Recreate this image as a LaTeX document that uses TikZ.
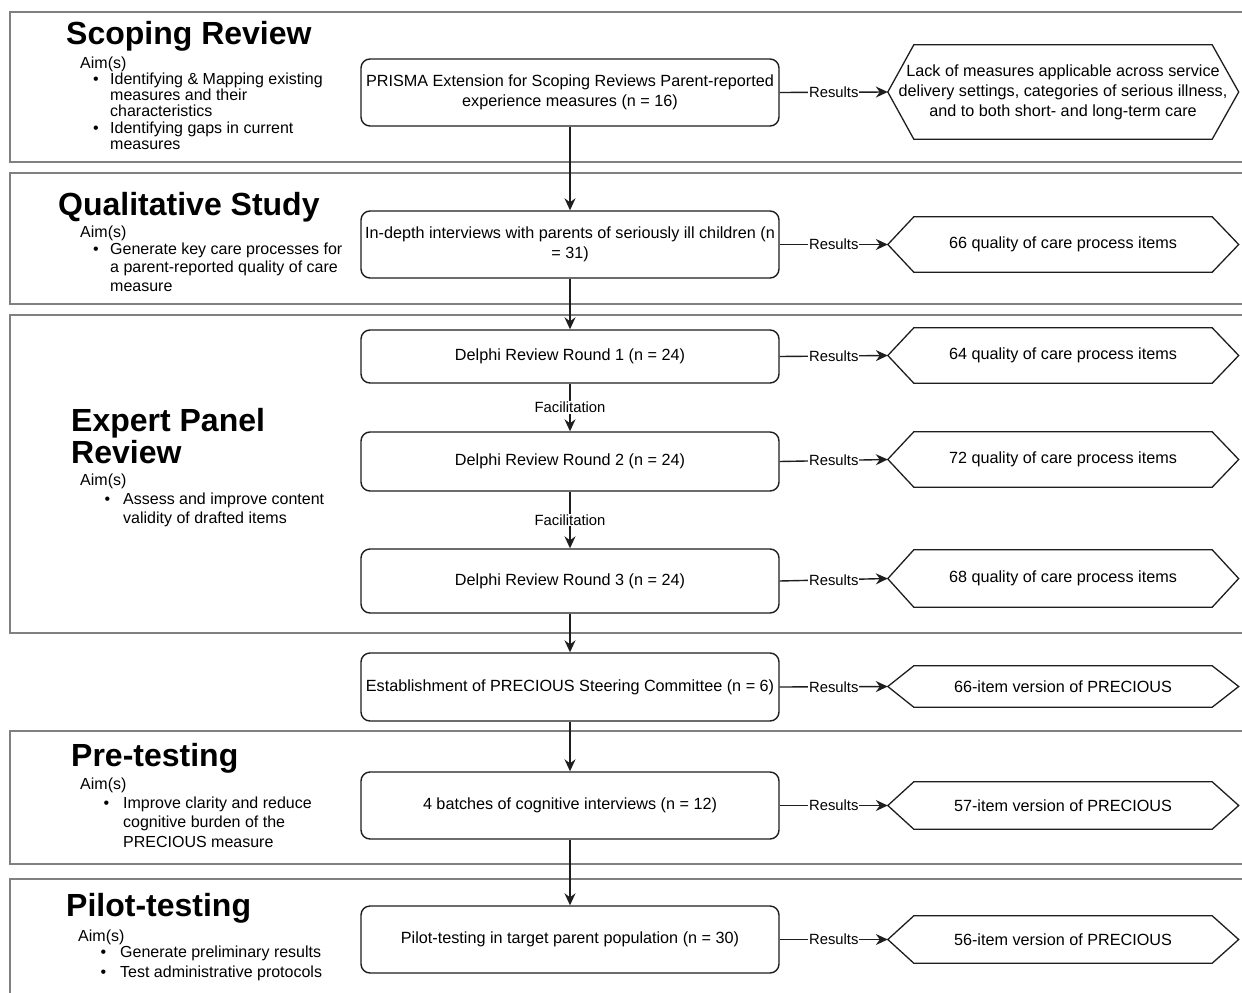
\documentclass[tikz,border=0pt]{standalone}
\usepackage{fontspec}
\setmainfont{Liberation Sans}
\usetikzlibrary{arrows.meta}
\definecolor{framegray}{RGB}{128,128,128}
\definecolor{ink}{RGB}{30,30,30}
\tikzset{
  frame/.style={draw=framegray, line width=1.4pt},
  box/.style={draw=ink, line width=1.4pt, rounded corners=9pt, minimum width=418pt,
    align=center, inner sep=0pt, font=\fontsize{16.2}{20}\selectfont},
  hexbody/.style={minimum width=298pt, inner sep=0pt, align=center, font=\fontsize{16.2}{20}\selectfont},
  hexline/.style={draw=ink, line width=1.3pt, line join=miter},
  arr/.style={draw=ink, line width=1.4pt, -{Stealth[length=12pt,width=11pt,inset=4pt]}},
  lab/.style={fill=white, inner sep=1pt, font=\fontsize{14.8}{16}\selectfont},
  title/.style={font=\fontsize{32}{32}\bfseries\selectfont, inner sep=0pt, align=left},
  aimtxt/.style={font=\fontsize{16}{16}\selectfont, inner sep=0pt, align=left},
}
\newcommand\hexpath[1]{\draw[hexline] (#1.north west) -- (#1.north east) -- ([xshift=26.5pt]#1.east) -- (#1.south east) -- (#1.south west) -- ([xshift=-26pt]#1.west) -- cycle;}
\begin{document}
\begin{tikzpicture}[x=1pt,y=-1pt]
\clip (0,0) rectangle (1242,993);
\fill[white] (0,0) rectangle (1242,993);
% section frames
\draw[frame] (10,12) rectangle (1260,162);
\draw[frame] (10,173) rectangle (1260,304);
\draw[frame] (10,315) rectangle (1260,633);
\draw[frame] (10,731) rectangle (1260,864);
\draw[frame] (10,879) rectangle (1260,1010);

% ---------- left column ----------
% Scoping Review
\node[title, anchor=base west] (t1) at (66,44) {Scoping Review};
\node[aimtxt, anchor=base west] (a1) at (80,68) {Aim(s)};
\node[aimtxt, anchor=base west] (d11) at (93,84) {\textbullet};
\node[aimtxt, anchor=north west, font=\fontsize{16}{16}\selectfont] (i11) at (110,72.4) {Identifying \& Mapping existing\\measures and their\\characteristics};
\node[aimtxt, anchor=base west] (d12) at (93,133) {\textbullet};
\node[aimtxt, anchor=north west, font=\fontsize{16}{16}\selectfont] (i12) at (110,121.4) {Identifying gaps in current\\measures};
% Qualitative Study
\node[title, anchor=base west] (t2) at (58,215) {Qualitative Study};
\node[aimtxt, anchor=base west] (a2) at (80,237) {Aim(s)};
\node[aimtxt, anchor=base west] (d21) at (93,254) {\textbullet};
\node[aimtxt, anchor=north west, font=\fontsize{16}{18.5}\selectfont] (i21) at (110,242.4) {Generate key care processes for\\a parent-reported quality of care\\measure};
% Expert Panel Review
\node[title, anchor=north west] (t3) at (71,407.7) {Expert Panel\\Review};
\node[aimtxt, anchor=base west] (a3) at (80,485) {Aim(s)};
\node[aimtxt, anchor=base west] (d31) at (104.5,504) {\textbullet};
\node[aimtxt, anchor=north west, font=\fontsize{16}{19.5}\selectfont] (i31) at (123,492.4) {Assess and improve content\\validity of drafted items};
% Pre-testing
\node[title, anchor=base west] (t4) at (71,766) {Pre-testing};
\node[aimtxt, anchor=base west] (a4) at (80,789) {Aim(s)};
\node[aimtxt, anchor=base west] (d41) at (103.5,808) {\textbullet};
\node[aimtxt, anchor=north west, font=\fontsize{16}{19.5}\selectfont] (i41) at (123,796.4) {Improve clarity and reduce\\cognitive burden of the\\PRECIOUS measure};
% Pilot-testing
\node[title, anchor=base west] (t5) at (66,916) {Pilot-testing};
\node[aimtxt, anchor=base west] (a5) at (78,941) {Aim(s)};
\node[aimtxt, anchor=base west] (d51) at (100.5,957) {\textbullet};
\node[aimtxt, anchor=base west] (i51) at (120,957) {Generate preliminary results};
\node[aimtxt, anchor=base west] (d52) at (100.5,977) {\textbullet};
\node[aimtxt, anchor=base west] (i52) at (120,977) {Test administrative protocols};

% ---------- centre boxes ----------
\node[box, minimum height=67pt] (b1) at (570,92.5) {PRISMA Extension for Scoping Reviews Parent-reported\\experience measures (n = 16)};
\node[box, minimum height=67pt] (b2) at (570,244.5) {In-depth interviews with parents of seriously ill children (n\\= 31)};
\node[box, minimum height=53pt] (b3) at (570,356.5) {Delphi Review Round 1 (n = 24)};
\node[box, minimum height=59pt] (b4) at (570,461.5) {Delphi Review Round 2 (n = 24)};
\node[box, minimum height=64pt] (b5) at (570,581) {Delphi Review Round 3 (n = 24)};
\node[box, minimum height=68pt] (b6) at (570,687) {Establishment of PRECIOUS Steering Committee (n = 6)};
\node[box, minimum height=67pt] (b7) at (570,805.5) {4 batches of cognitive interviews (n = 12)};
\node[box, minimum height=67pt] (b8) at (570,939.5) {Pilot-testing in target parent population (n = 30)};

% ---------- result hexagons ----------
\node[hexbody, minimum height=94pt] (h1) at (1063,92) {\makebox[298pt]{Lack of measures applicable across service}\\\makebox[298pt]{delivery settings, categories of serious illness,}\\\makebox[298pt]{and to both short- and long-term care}};
\node[hexbody, minimum height=55pt] (h2) at (1063,244.5) {66 quality of care process items};
\node[hexbody, minimum height=55pt] (h3) at (1063,355.5) {64 quality of care process items};
\node[hexbody, minimum height=55pt] (h4) at (1063,459.5) {72 quality of care process items};
\node[hexbody, minimum height=57pt] (h5) at (1063,578.5) {68 quality of care process items};
\node[hexbody, minimum height=41pt] (h6) at (1063,686.5) {66-item version of PRECIOUS};
\node[hexbody, minimum height=47pt] (h7) at (1063,805.5) {57-item version of PRECIOUS};
\node[hexbody, minimum height=47pt] (h8) at (1063,939.5) {56-item version of PRECIOUS};
\foreach \h in {h1,h2,h3,h4,h5,h6,h7,h8}{\hexpath{\h}}

% ---------- connectors ----------
\draw[arr] (b1) -- (b2);
\draw[arr] (b2) -- (b3);
\draw[arr] (b3) -- node[lab] (f1) {Facilitation} (b4);
\draw[arr] (b4) -- node[lab] (f2) {Facilitation} (b5);
\draw[arr] (b5) -- (b6);
\draw[arr] (b6) -- (b7);
\draw[arr] (b7) -- (b8);
\foreach \b/\h in {b1/h1,b2/h2,b3/h3,b4/h4,b5/h5,b6/h6,b7/h7,b8/h8}{
  \draw[arr] (\b.east) -- node[lab] {Results} ([xshift=-26pt]\h.west);
}
\end{tikzpicture}
\end{document}
